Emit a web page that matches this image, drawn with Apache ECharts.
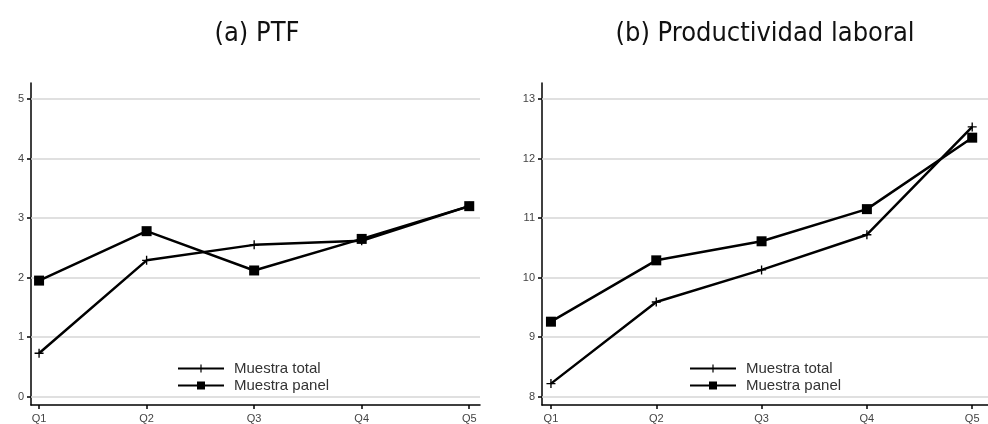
<!DOCTYPE html>
<html>
<head>
<meta charset="utf-8">
<script src="https://cdn.jsdelivr.net/npm/echarts@6/dist/echarts.min.js"></script>
<style>
html,body{margin:0;padding:0;background:#fff;}
#main{width:988px;height:424px;}
</style>
</head>
<body>
<div id="main"></div>
<script>
const categories = ['Q1', 'Q2', 'Q3', 'Q4', 'Q5'];
const ptfTotal = [0.73, 2.29, 2.55, 2.62, 3.2];
const ptfPanel = [1.95, 2.78, 2.12, 2.65, 3.2];
const prodTotal = [8.22, 9.59, 10.13, 10.72, 12.53];
const prodPanel = [9.26, 10.29, 10.61, 11.15, 12.35];
const yTicksA = [0, 1, 2, 3, 4, 5];
const yTicksB = [8, 9, 10, 11, 12, 13];
const xTicks = [0, 1, 2, 3, 4];
const titles = ['(a) PTF', '(b) Productividad laboral'];
const seriesNames = ['Muestra total', 'Muestra panel'];

const PLUS = 'path://M4.25,0H5.75V4.25H10V5.75H5.75V10H4.25V5.75H0V4.25H4.25Z';
const labelFont = "'Liberation Sans', Arial, sans-serif";
const titleFont = "'Liberation Sans Narrow', 'DejaVu Sans Condensed', sans-serif";

function toPairs(arr) { return arr.map((v, i) => [i, v]); }

function xAxisCfg(idx, min, max) {
  return {
    type: 'value', gridIndex: idx, min: min, max: max,
    axisLine: { show: true, onZero: false, lineStyle: { color: '#000', width: 1.5 } },
    axisTick: { show: true, customValues: xTicks, length: 4, lineStyle: { color: '#000', width: 1.5 } },
    axisLabel: { customValues: xTicks, formatter: v => categories[Math.round(v)], fontSize: 11, color: '#444', margin: 8, fontFamily: labelFont },
    splitLine: { show: false }
  };
}
function yAxisCfg(idx, min, max, ticks) {
  return {
    type: 'value', gridIndex: idx, min: min, max: max,
    axisLine: { show: true, onZero: false, lineStyle: { color: '#000', width: 1.5 } },
    axisTick: { show: true, customValues: ticks, length: 4, lineStyle: { color: '#000', width: 1.5 } },
    axisLabel: { customValues: ticks, fontSize: 11, color: '#444', margin: 7, fontFamily: labelFont },
    splitLine: { show: false }
  };
}
function gridLines(ticks) {
  return {
    silent: true, z: 1, symbol: ['none', 'none'], animation: false,
    label: { show: false },
    lineStyle: { color: '#d6d6d6', width: 1.5, type: 'solid' },
    emphasis: { disabled: true },
    data: ticks.map(v => ({ yAxis: v }))
  };
}
function lineSeries(name, data, idx, symbol, size, ticks) {
  const s = {
    name: name, type: 'line', xAxisIndex: idx, yAxisIndex: idx,
    data: toPairs(data), symbol: symbol, symbolSize: size, showSymbol: true,
    z: 3, animation: false,
    lineStyle: { color: '#000', width: 2.5 },
    itemStyle: { color: '#000' },
    emphasis: { disabled: true }
  };
  if (ticks) s.markLine = gridLines(ticks);
  return s;
}
function legendCfg(left) {
  return {
    left: left, top: 361, orient: 'vertical', itemWidth: 46, itemHeight: 10, itemGap: 2, padding: 0,
    data: seriesNames, selectedMode: false,
    textStyle: { fontSize: 15, lineHeight: 14, color: '#333', fontFamily: labelFont, padding: [0, 0, 0, 5] }
  };
}

const chart = echarts.init(document.getElementById('main'), null, { renderer: 'canvas' });
chart.setOption({
  backgroundColor: '#fff',
  animation: false,
  title: [
    { text: titles[0], left: 257, top: 20, textAlign: 'center', padding: 0,
      textStyle: { fontSize: 27, fontWeight: 'normal', color: '#111', fontFamily: titleFont } },
    { text: titles[1], left: 765, top: 20, textAlign: 'center', padding: 0,
      textStyle: { fontSize: 27, fontWeight: 'normal', color: '#111', fontFamily: titleFont } }
  ],
  legend: [legendCfg(177), legendCfg(689)],
  grid: [
    { left: 31, top: 83, width: 449, height: 323 },
    { left: 542, top: 83, width: 450, height: 323 }
  ],
  xAxis: [xAxisCfg(0, -0.075, 4.1), xAxisCfg(1, -0.085, 4.15)],
  yAxis: [yAxisCfg(0, -0.139, 5.268, yTicksA), yAxisCfg(1, 7.861, 13.268, yTicksB)],
  series: [
    lineSeries(seriesNames[0], ptfTotal, 0, PLUS, 9, yTicksA),
    lineSeries(seriesNames[1], ptfPanel, 0, 'rect', 10),
    lineSeries(seriesNames[0], prodTotal, 1, PLUS, 9, yTicksB),
    lineSeries(seriesNames[1], prodPanel, 1, 'rect', 10)
  ]
});
</script>
</body>
</html>
